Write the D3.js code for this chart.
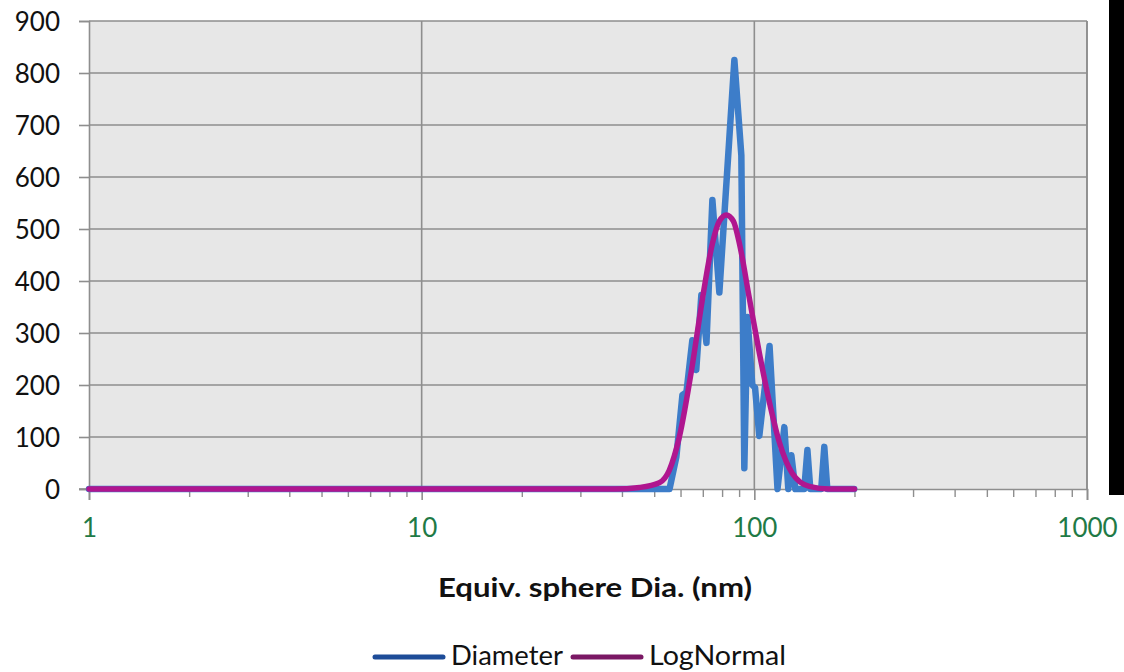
<!DOCTYPE html>
<html>
<head>
<meta charset="utf-8">
<script src="https://cdn.jsdelivr.net/npm/d3@7"></script>
<style>
  body { margin: 0; background: #fff; }
  .chart text { font-family: Lato, "Open Sans", sans-serif; }
</style>
</head>
<body>
<div class="chart"></div>
<script>
var svgWidth = 1124;
var svgHeight = 672;

var margin = { top: 21, right: 37, bottom: 183, left: 89 };

var chartWidth = svgWidth - margin.left - margin.right;
var chartHeight = svgHeight - margin.top - margin.bottom;

// Diameter series (nm, count)
var diameterX = [1, 55.6, 58.3, 60.8, 62.5, 65.1, 66.9, 69.3, 71.8, 74.8, 78.5, 87.1, 91.4, 93.3, 95.3, 98.6,
                 100.5, 103.5, 111.1, 117.4, 123.1, 126.5, 129.2, 132.8, 141.3, 144.4, 147.3, 158.9, 162.3, 165.7, 199.6];
var diameterY = [0, 0, 62, 181, 186, 286, 229, 373, 281, 556, 378, 825, 642, 40, 331, 200,
                 195, 102, 275, 0, 119, 0, 65, 0, 0, 75, 0, 0, 81, 0, 0];

// LogNormal fit
var logNormalX = [1, 38, 45.2, 51.8, 55.5, 59.5, 65.1, 69.8, 74.8, 78.5, 82.4, 86.5, 90.2, 96.6,
                  103.5, 110.9, 118.9, 130.1, 146.3, 168, 200];
var logNormalY = [0, 0, 3, 12, 36, 100, 238, 365, 472, 515, 527, 515, 472, 367,
                  262, 168, 90, 30, 5, 0, 0];

var yTicks = [0, 100, 200, 300, 400, 500, 600, 700, 800, 900];
var xTicks = [1, 10, 100, 1000];
var seriesNames = ["Diameter", "LogNormal"];

var diameterData = diameterX.map(function(d, i) { return { x: d, y: diameterY[i] }; });
var logNormalData = logNormalX.map(function(d, i) { return { x: d, y: logNormalY[i] }; });

var svg = d3.select(".chart")
  .append("svg")
  .attr("width", svgWidth)
  .attr("height", svgHeight);

// black strip on the right edge
svg.append("rect")
  .attr("x", 1109).attr("y", 0)
  .attr("width", 15).attr("height", 495)
  .attr("fill", "#000");

var chart = svg.append("g")
  .attr("transform", "translate(" + margin.left + "," + margin.top + ")");

var xScale = d3.scaleLog().domain([1, 1000]).range([0, chartWidth]);
var yScale = d3.scaleLinear().domain([0, 900]).range([chartHeight, 0]);

chart.append("rect")
  .attr("width", chartWidth)
  .attr("height", chartHeight)
  .attr("fill", "#e7e7e7");

// horizontal gridlines
chart.selectAll(".hgrid")
  .data(yTicks.slice(1))
  .enter()
  .append("line")
  .attr("x1", 0).attr("x2", chartWidth)
  .attr("y1", function(d) { return yScale(d); })
  .attr("y2", function(d) { return yScale(d); })
  .attr("stroke", "#8e8e8e")
  .attr("stroke-width", 1.6);

// vertical gridlines
chart.selectAll(".vgrid")
  .data(xTicks.slice(1))
  .enter()
  .append("line")
  .attr("x1", function(d) { return xScale(d); })
  .attr("x2", function(d) { return xScale(d); })
  .attr("y1", 0).attr("y2", chartHeight)
  .attr("stroke", "#8e8e8e")
  .attr("stroke-width", 1.6);

// Y axis
var yAxis = d3.axisLeft(yScale)
  .tickValues(yTicks)
  .tickSize(10)
  .tickPadding(19)
  .tickFormat(d3.format("d"));

var yG = chart.append("g").call(yAxis);
yG.select(".domain").attr("stroke", "#8e8e8e").attr("stroke-width", 1.6);
yG.selectAll(".tick line").attr("stroke", "#8e8e8e").attr("stroke-width", 1.6);
yG.selectAll("text")
  .attr("fill", "#111")
  .style("font-size", "26px")
  .attr("dy", "0.36em");

// X axis, minor ticks
var minorTicks = [];
[1, 10, 100].forEach(function(base) {
  for (var k = 2; k <= 9; k++) minorTicks.push(base * k);
});

var xMinor = d3.axisBottom(xScale)
  .tickValues(minorTicks)
  .tickSize(8)
  .tickFormat("");

var xmG = chart.append("g")
  .attr("transform", "translate(0," + chartHeight + ")")
  .call(xMinor);
xmG.select(".domain").remove();
xmG.selectAll(".tick line").attr("stroke", "#8e8e8e").attr("stroke-width", 1.4);

// X axis, major ticks
var xAxis = d3.axisBottom(xScale)
  .tickValues(xTicks)
  .tickSize(11)
  .tickFormat(d3.format("d"));

var xG = chart.append("g")
  .attr("transform", "translate(0," + chartHeight + ")")
  .call(xAxis);
xG.select(".domain").attr("stroke", "#8e8e8e").attr("stroke-width", 1.6);
xG.selectAll(".tick line").attr("stroke", "#8e8e8e").attr("stroke-width", 1.6);
xG.selectAll("text")
  .attr("fill", "#1f7a46")
  .style("font-size", "26px")
  .attr("y", 48)
  .attr("dy", 0);

// bottom axis line extends left to tick at 0
chart.append("line")
  .attr("x1", -10).attr("x2", 0)
  .attr("y1", chartHeight).attr("y2", chartHeight)
  .attr("stroke", "#8e8e8e").attr("stroke-width", 1.6);

// right border
chart.append("line")
  .attr("x1", chartWidth).attr("x2", chartWidth)
  .attr("y1", 0).attr("y2", chartHeight)
  .attr("stroke", "#8e8e8e").attr("stroke-width", 1.6);

var line = d3.line()
  .x(function(d) { return xScale(d.x); })
  .y(function(d) { return yScale(d.y); });

chart.append("path")
  .datum(diameterData)
  .attr("d", line.curve(d3.curveLinear))
  .attr("fill", "none")
  .attr("stroke", "#3d7dc9")
  .attr("stroke-width", 6.5)
  .attr("stroke-linejoin", "round")
  .attr("stroke-linecap", "round");

chart.append("path")
  .datum(logNormalData)
  .attr("d", line.curve(d3.curveMonotoneX))
  .attr("fill", "none")
  .attr("stroke", "#b0168f")
  .attr("stroke-width", 5.5)
  .attr("stroke-linejoin", "round")
  .attr("stroke-linecap", "round");

// axis title
svg.append("text")
  .attr("x", 438)
  .attr("y", 597)
  .attr("textLength", 314)
  .attr("lengthAdjust", "spacingAndGlyphs")
  .style("font-size", "27px")
  .style("font-weight", "bold")
  .attr("fill", "#111")
  .text("Equiv. sphere Dia. (nm)");

// legend
var legendColors = ["#1d4c98", "#7a1864"];
var legendX = [375, 573];
var legendTextLen = [112, 137];

seriesNames.forEach(function(name, i) {
  svg.append("line")
    .attr("x1", legendX[i]).attr("x2", legendX[i] + 68)
    .attr("y1", 657).attr("y2", 657)
    .attr("stroke", legendColors[i])
    .attr("stroke-width", 5)
    .attr("stroke-linecap", "round");
  svg.append("text")
    .attr("x", legendX[i] + 76)
    .attr("y", 665)
    .attr("textLength", legendTextLen[i])
    .attr("lengthAdjust", "spacingAndGlyphs")
    .style("font-size", "26px")
    .attr("fill", "#111")
    .text(name);
});
</script>
</body>
</html>
